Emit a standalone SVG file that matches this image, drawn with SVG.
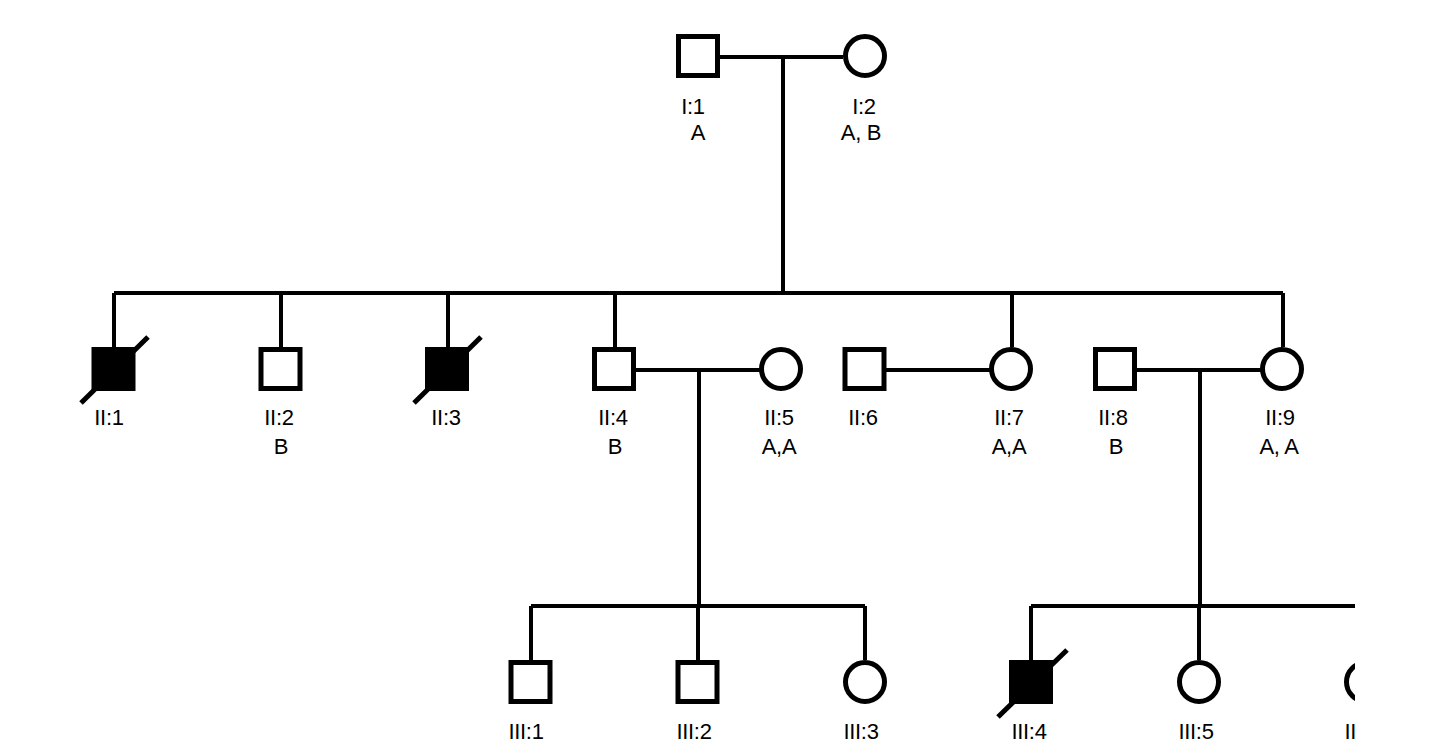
<svg xmlns="http://www.w3.org/2000/svg" width="1438" height="752" viewBox="0 0 1438 752">
<defs>
<style>
.sym{fill:#fff;stroke:#000;stroke-width:5}
.aff{fill:#000;stroke:#000;stroke-width:5}
.ln{stroke:#000;stroke-width:4;fill:none}
.dead{stroke:#000;stroke-width:5}
text{font-family:"Liberation Sans",Arial,sans-serif;font-size:22px;fill:#000;text-anchor:middle;letter-spacing:-0.3px}
</style>
<clipPath id="clip"><rect x="0" y="0" width="1355" height="752"/></clipPath>
</defs>
<rect width="1438" height="752" fill="#fff"/>
<g clip-path="url(#clip)">
<g id="connectors">
<line class="ln" x1="719" y1="57" x2="843" y2="57"/>
<line class="ln" x1="783" y1="57" x2="783" y2="293"/>
<line class="ln" x1="114" y1="293" x2="1283" y2="293"/>
<line class="ln" x1="114" y1="293" x2="114" y2="347"/>
<line class="ln" x1="281" y1="293" x2="281" y2="347"/>
<line class="ln" x1="448" y1="293" x2="448" y2="347"/>
<line class="ln" x1="615" y1="293" x2="615" y2="347"/>
<line class="ln" x1="1012" y1="293" x2="1012" y2="347"/>
<line class="ln" x1="1283" y1="293" x2="1283" y2="347"/>
<line class="ln" x1="636" y1="370" x2="760" y2="370"/>
<line class="ln" x1="699" y1="370" x2="699" y2="606"/>
<line class="ln" x1="886" y1="370" x2="991" y2="370"/>
<line class="ln" x1="1137" y1="370" x2="1261" y2="370"/>
<line class="ln" x1="1200" y1="370" x2="1200" y2="606"/>
<line class="ln" x1="531" y1="606" x2="865" y2="606"/>
<line class="ln" x1="531" y1="606" x2="531" y2="660"/>
<line class="ln" x1="698" y1="606" x2="698" y2="660"/>
<line class="ln" x1="865" y1="606" x2="865" y2="660"/>
<line class="ln" x1="1031" y1="606" x2="1400" y2="606"/>
<line class="ln" x1="1031" y1="606" x2="1031" y2="660"/>
<line class="ln" x1="1199" y1="606" x2="1199" y2="660"/>
<line class="ln" x1="1366" y1="606" x2="1366" y2="660"/>
</g>
<g id="I1"><rect class="sym" x="678.5" y="36.5" width="39" height="39"/><text x="693" y="114">I:1</text><text x="698" y="140">A</text></g>
<g id="I2"><circle class="sym" cx="865" cy="56" r="19.5"/><text x="864" y="114">I:2</text><text x="861" y="140">A, B</text></g>
<g id="II1"><rect class="aff" x="94" y="349.5" width="39" height="39"/><line class="dead" x1="81" y1="403" x2="148" y2="337"/><text x="109" y="425">II:1</text></g>
<g id="II2"><rect class="sym" x="261" y="349.5" width="39" height="39"/><text x="279" y="425">II:2</text><text x="281" y="454">B</text></g>
<g id="II3"><rect class="aff" x="427.5" y="349.5" width="39" height="39"/><line class="dead" x1="414" y1="403" x2="481" y2="337"/><text x="446" y="425">II:3</text></g>
<g id="II4"><rect class="sym" x="594.5" y="349.5" width="39" height="39"/><text x="613" y="425">II:4</text><text x="615" y="454">B</text></g>
<g id="II5"><circle class="sym" cx="781" cy="369" r="19.5"/><text x="779" y="425">II:5</text><text x="779" y="454">A,A</text></g>
<g id="II6"><rect class="sym" x="845" y="349.5" width="39" height="39"/><text x="863" y="425">II:6</text></g>
<g id="II7"><circle class="sym" cx="1011" cy="369" r="19.5"/><text x="1009" y="425">II:7</text><text x="1009" y="454">A,A</text></g>
<g id="II8"><rect class="sym" x="1095.5" y="349.5" width="39" height="39"/><text x="1113" y="425">II:8</text><text x="1116" y="454">B</text></g>
<g id="II9"><circle class="sym" cx="1282" cy="369" r="19.5"/><text x="1280" y="425">II:9</text><text x="1279" y="454">A, A</text></g>
<g id="III1"><rect class="sym" x="511" y="662.5" width="39" height="39"/><text x="526" y="739">III:1</text></g>
<g id="III2"><rect class="sym" x="678" y="662.5" width="39" height="39"/><text x="694" y="739">III:2</text></g>
<g id="III3"><circle class="sym" cx="865" cy="682" r="19.5"/><text x="861" y="739">III:3</text></g>
<g id="III4"><rect class="aff" x="1011.5" y="662.5" width="39" height="39"/><line class="dead" x1="998" y1="717" x2="1067" y2="650"/><text x="1029" y="739">III:4</text></g>
<g id="III5"><circle class="sym" cx="1199" cy="682" r="19.5"/><text x="1196" y="739">III:5</text></g>
<g id="III6"><circle class="sym" cx="1366" cy="682" r="19.5"/><text x="1362" y="739">III:6</text></g>
</g>
</svg>
